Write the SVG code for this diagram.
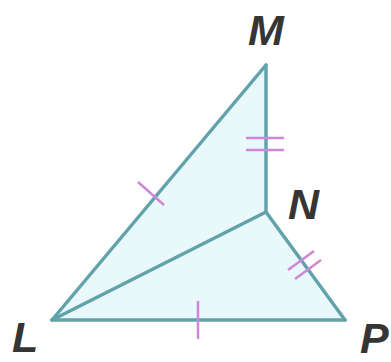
<svg xmlns="http://www.w3.org/2000/svg" width="391" height="362" viewBox="0 0 391 362">
<style>
.edge{stroke:#62a3ab;stroke-width:3.5;fill:none;stroke-linejoin:round;stroke-linecap:round}
.tick{stroke:#cf86d6;stroke-width:2.5;fill:none}
.lbl{font-family:"Liberation Sans",Arial,sans-serif;font-weight:bold;font-style:italic;font-size:43px;fill:#353535}
</style>
<rect width="391" height="362" fill="#ffffff"/>
<g id="triangle-fill">
<polygon points="52,320 266,65 266,212 345,320" fill="#e9f9fb"/>
</g>
<g id="connectors">
<line class="edge" x1="52" y1="320" x2="266" y2="65"/>
<line class="edge" x1="266" y1="65" x2="266" y2="212"/>
<line class="edge" x1="266" y1="212" x2="345" y2="320"/>
<line class="edge" x1="345" y1="320" x2="52" y2="320"/>
<line class="edge" x1="52" y1="320" x2="266" y2="212"/>
</g>
<g id="ticks">
<line class="tick" x1="138" y1="182" x2="164" y2="205"/>
<line class="tick" x1="198" y1="301" x2="198" y2="339"/>
<line class="tick" x1="246" y1="138" x2="284" y2="138"/>
<line class="tick" x1="246" y1="150" x2="284" y2="150"/>
<line class="tick" x1="288" y1="270" x2="314" y2="251"/>
<line class="tick" x1="295" y1="279" x2="321" y2="260"/>
</g>
<g id="node-M"><text class="lbl" x="248" y="45">M</text></g>
<g id="node-N"><text class="lbl" x="288" y="219">N</text></g>
<g id="node-L"><text class="lbl" x="12" y="352">L</text></g>
<g id="node-P"><text class="lbl" x="360" y="353">P</text></g>
</svg>
